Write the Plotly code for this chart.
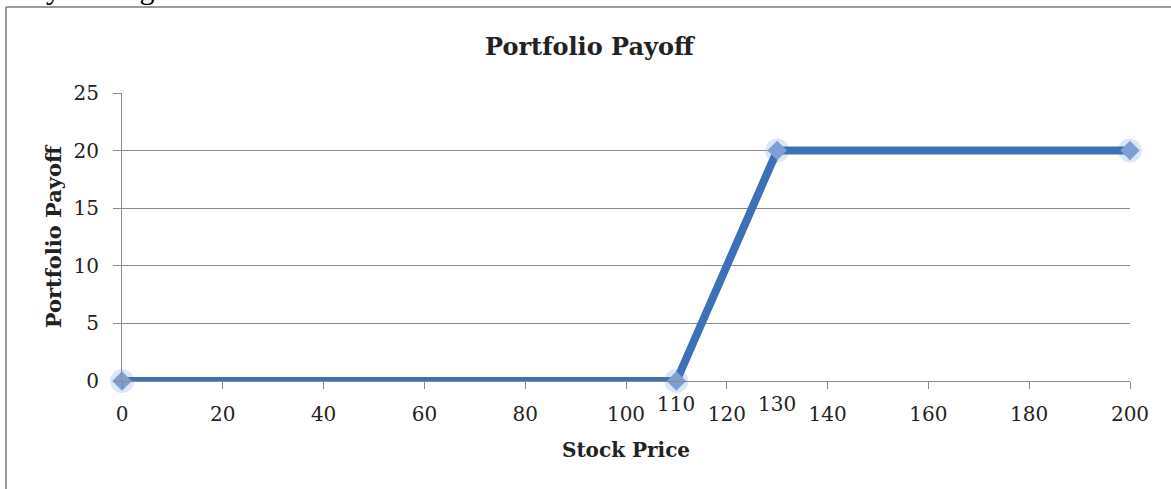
import plotly.graph_objects as go

stock_price = [0, 110, 130, 200]
payoff = [0, 0, 20, 20]
x_ticks = [0, 20, 40, 60, 80, 100, 120, 140, 160, 180, 200]
extra_labels = [110, 130]
y_ticks = [0, 5, 10, 15, 20, 25]

W, H = 1171, 489
L, R, T, B = 122, 41, 93, 108
pw, ph = W - L - R, H - T - B

def px(xpix):
    return (xpix - L) / pw

def py(ypix):
    return (H - B - ypix) / ph

SERIF = "DejaVu Serif"
GRID = "#8a8a8a"

fig = go.Figure()
# soft glow behind markers
fig.add_trace(go.Scatter(
    x=stock_price, y=payoff, mode="markers",
    marker=dict(symbol="circle", size=24, color="rgba(140,175,225,0.30)", line=dict(width=0)),
    hoverinfo="skip", showlegend=False, cliponaxis=False))
fig.add_trace(go.Scatter(
    x=stock_price, y=payoff, mode="lines+markers",
    line=dict(color="#3d70b6", width=8),
    marker=dict(symbol="diamond", size=15, color="#7d9fd3", line=dict(width=0)),
    showlegend=False, cliponaxis=False))

fig.update_layout(
    width=W, height=H,
    margin=dict(l=L, r=R, t=T, b=B, autoexpand=False),
    paper_bgcolor="white", plot_bgcolor="white",
    font=dict(family=SERIF, color="#1a1a1a"),
    xaxis=dict(
        range=[0, 200], tickvals=x_ticks, ticktext=[str(v) for v in x_ticks],
        showgrid=False, zeroline=False, showline=True, linecolor=GRID, linewidth=1,
        ticks="outside", ticklen=7, tickcolor=GRID, tickfont=dict(size=20, family=SERIF, color="#222"),
        ticklabelstandoff=8, automargin=False,
        title=dict(text="<b>Stock Price</b>", font=dict(size=20, family=SERIF, color="#222"), standoff=17),
    ),
    yaxis=dict(
        range=[0, 25], tickvals=y_ticks,
        showgrid=True, gridcolor=GRID, gridwidth=1, zeroline=False,
        showline=True, linecolor=GRID, linewidth=1,
        ticks="outside", ticklen=8, tickcolor=GRID, tickfont=dict(size=20, family=SERIF, color="#222"),
        ticklabelstandoff=10, automargin=False,
        title=dict(text="<b>Portfolio Payoff</b>", font=dict(size=21, family=SERIF, color="#222"), standoff=6),
    ),
)

annotations = [
    dict(text="<b>Portfolio Payoff</b>", xref="paper", yref="paper", x=px(590), y=py(46),
         xanchor="center", yanchor="middle", showarrow=False,
         font=dict(size=24, family=SERIF, color="#222")),
    dict(text="Payoff diagram:", xref="paper", yref="paper", x=px(14), y=py(7),
         xanchor="left", yanchor="bottom", showarrow=False,
         font=dict(size=30, family="Liberation Serif", color="#000")),
]
for v in extra_labels:
    annotations.append(dict(text=str(v), xref="x", yref="paper", x=v, y=py(404),
                            xanchor="center", yanchor="middle", showarrow=False,
                            font=dict(size=20, family=SERIF, color="#222")))
fig.update_layout(annotations=annotations)

fig.update_layout(shapes=[
    dict(type="line", xref="paper", yref="paper", x0=px(6), x1=px(1175), y0=py(7), y1=py(7),
         line=dict(color="#7a7a7a", width=1.5)),
    dict(type="line", xref="paper", yref="paper", x0=px(6), x1=px(6), y0=py(7), y1=py(495),
         line=dict(color="#7a7a7a", width=1.5)),
])

fig.write_html("out.html", config={"displayModeBar": False},
               post_script="document.body.style.margin='0';document.body.style.overflow='hidden';")
